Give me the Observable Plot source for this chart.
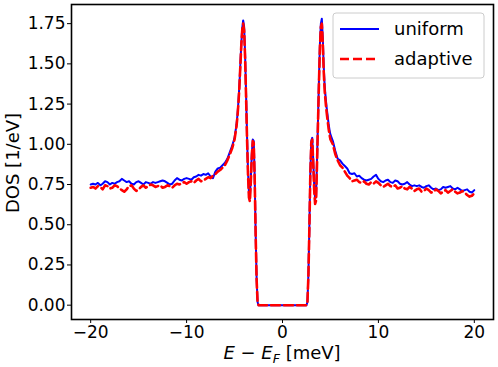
<!DOCTYPE html>
<html>
<head>
<meta charset="utf-8">
<script src="https://cdn.jsdelivr.net/npm/d3@7"></script>
<script src="https://cdn.jsdelivr.net/npm/@observablehq/plot@0.6"></script>
<style>
  html, body { margin: 0; padding: 0; background: white; }
  #chart { width: 498px; height: 367px; }
</style>
</head>
<body>
<div id="chart"></div>
<script>
// Energy grid E - E_F [meV]
const energy = [
  -20,-19.75,-19.5,-19.25,-19,-18.75,-18.5,-18.25,-18,-17.75,
  -17.5,-17.25,-17,-16.75,-16.5,-16.25,-16,-15.75,-15.5,-15.25,
  -15,-14.75,-14.5,-14.25,-14,-13.75,-13.5,-13.25,-13,-12.75,
  -12.5,-12.25,-12,-11.75,-11.5,-11.25,-11,-10.75,-10.5,-10.25,
  -10,-9.75,-9.5,-9.25,-9,-8.75,-8.5,-8.25,-8,-7.75,
  -7.5,-7.25,-7,-6.75,-6.5,-6.25,-6,-5.75,-5.5,-5.25,
  -5,-4.9,-4.8,-4.7,-4.6,-4.5,-4.4,-4.3,-4.2,-4.1,
  -4,-3.9,-3.8,-3.7,-3.6,-3.5,-3.4,-3.3,-3.2,-3.1,
  -3,-2.9,-2.8,-2.7,-2.6,
  -2.5,-2,-1,0,1,2,2.5,
  2.6,2.7,2.8,2.9,3,
  3.1,3.2,3.3,3.4,3.5,3.6,3.7,3.8,3.9,4,
  4.1,4.2,4.3,4.4,4.5,4.6,4.7,4.8,4.9,5,
  5.25,5.5,5.75,6,6.25,6.5,6.75,7,7.25,7.5,
  7.75,8,8.25,8.5,8.75,9,9.25,9.5,9.75,10,
  10.25,10.5,10.75,11,11.25,11.5,11.75,12,12.25,12.5,
  12.75,13,13.25,13.5,13.75,14,14.25,14.5,14.75,15,
  15.25,15.5,15.75,16,16.25,16.5,16.75,17,17.25,17.5,
  17.75,18,18.25,18.5,18.75,19,19.25,19.5,19.75,20
];

// DOS [1/eV], "uniform" series
const uniform = [
  0.75,0.755,0.75,0.76,0.745,0.755,0.77,0.765,0.75,0.76,
  0.755,0.765,0.77,0.785,0.775,0.765,0.77,0.755,0.75,0.765,
  0.77,0.76,0.75,0.765,0.76,0.755,0.765,0.76,0.765,0.77,
  0.775,0.77,0.76,0.75,0.755,0.775,0.79,0.78,0.775,0.785,
  0.79,0.785,0.78,0.795,0.80,0.81,0.805,0.815,0.81,0.82,
  0.80,0.79,0.83,0.85,0.855,0.87,0.885,0.91,0.95,0.99,
  1.04,1.08,1.12,1.18,1.26,1.36,1.49,1.62,1.72,1.77,
  1.73,1.56,1.32,1.06,0.84,0.70,0.67,0.79,0.94,1.03,
  1.02,0.80,0.45,0.17,0.02,
  0,0,0,0,0,0,0,
  0.02,0.19,0.48,0.82,1.02,
  1.04,0.91,0.75,0.66,0.68,0.90,1.15,1.40,1.62,1.75,
  1.78,1.66,1.48,1.36,1.29,1.23,1.18,1.13,1.09,1.06,
  1.02,0.96,0.91,0.90,0.88,0.865,0.85,0.82,0.815,0.82,
  0.80,0.805,0.79,0.78,0.775,0.78,0.785,0.80,0.81,0.785,
  0.77,0.765,0.775,0.78,0.765,0.76,0.775,0.77,0.755,0.75,
  0.755,0.765,0.75,0.74,0.745,0.74,0.745,0.735,0.73,0.74,
  0.745,0.73,0.72,0.725,0.715,0.72,0.735,0.73,0.735,0.74,
  0.725,0.72,0.73,0.72,0.71,0.715,0.72,0.705,0.70,0.715
];

// DOS [1/eV], "adaptive" series
const adaptive = [
  0.73,0.735,0.725,0.74,0.735,0.72,0.745,0.74,0.725,0.73,
  0.745,0.74,0.725,0.715,0.705,0.72,0.74,0.745,0.725,0.71,
  0.72,0.735,0.745,0.73,0.74,0.75,0.745,0.735,0.74,0.745,
  0.73,0.735,0.745,0.74,0.73,0.745,0.755,0.75,0.76,0.765,
  0.755,0.765,0.77,0.76,0.775,0.785,0.77,0.775,0.785,0.795,
  0.79,0.805,0.815,0.83,0.84,0.855,0.87,0.90,0.935,0.975,
  1.03,1.07,1.11,1.17,1.25,1.35,1.48,1.61,1.71,1.75,
  1.71,1.54,1.30,1.04,0.82,0.67,0.645,0.77,0.93,1.02,
  1.01,0.79,0.44,0.16,0.02,
  0,0,0,0,0,0,0,
  0.02,0.18,0.47,0.81,1.01,
  1.03,0.89,0.72,0.63,0.65,0.88,1.13,1.38,1.60,1.73,
  1.75,1.63,1.45,1.33,1.26,1.20,1.15,1.10,1.06,1.03,
  1.00,0.94,0.90,0.87,0.855,0.83,0.805,0.79,0.77,0.775,
  0.78,0.765,0.76,0.77,0.755,0.75,0.765,0.755,0.77,0.76,
  0.745,0.735,0.745,0.755,0.74,0.735,0.745,0.725,0.73,0.74,
  0.725,0.72,0.735,0.725,0.71,0.72,0.725,0.705,0.71,0.725,
  0.715,0.70,0.705,0.72,0.71,0.695,0.705,0.715,0.70,0.71,
  0.72,0.705,0.695,0.70,0.71,0.70,0.685,0.675,0.68,0.695
];

const seriesNames = ["uniform", "adaptive"];
const seriesColors = ["#0000ff", "#ff0000"];
const xTicks = [-20, -10, 0, 10, 20];
const yTicks = [0, 0.25, 0.5, 0.75, 1.0, 1.25, 1.5, 1.75];

const uniData = energy.map((e, i) => ({e, v: uniform[i]}));
const adaData = energy.map((e, i) => ({e, v: adaptive[i]}));

const FONT = "DejaVu Sans";
const TICK_FS = 17;
const FS = 18;

const chart = Plot.plot({
  width: 498,
  height: 367,
  marginLeft: 71,
  marginRight: 5,
  marginTop: 4,
  marginBottom: 48,
  style: {fontFamily: FONT, fontSize: TICK_FS + "px", color: "black", background: "white", overflow: "visible"},
  x: {domain: [-22, 22], ticks: xTicks, tickFormat: d => d < 0 ? "\u2212" + Math.abs(d) : String(d), label: null, tickSize: 4, tickPadding: 2},
  y: {domain: [-0.089, 1.869], ticks: yTicks, tickFormat: d3.format(".2f"), label: null, tickSize: 4, tickPadding: 2},
  marks: [
    Plot.line(uniData, {x: "e", y: "v", stroke: seriesColors[0], strokeWidth: 2}),
    Plot.line(adaData, {x: "e", y: "v", stroke: seriesColors[1], strokeWidth: 2.6, strokeDasharray: "9,4"}),
    Plot.frame({stroke: "black", strokeWidth: 1.6})
  ]
});

document.getElementById("chart").appendChild(chart);

const svg = d3.select(chart);
// axis titles
const xl = svg.append("text")
  .attr("x", 282).attr("y", 359)
  .attr("text-anchor", "middle")
  .attr("font-family", FONT).attr("font-size", FS).attr("fill", "black");
xl.append("tspan").attr("font-style", "italic").text("E");
xl.append("tspan").text(" \u2212 ");
xl.append("tspan").attr("font-style", "italic").text("E");
xl.append("tspan").attr("font-style", "italic").attr("font-size", FS * 0.7).attr("dy", 4).text("F");
xl.append("tspan").attr("dy", -4).text(" [meV]");

svg.append("text")
  .attr("transform", "translate(19,163) rotate(-90)")
  .attr("text-anchor", "middle")
  .attr("font-family", FONT).attr("font-size", FS).attr("fill", "black")
  .text("DOS [1/eV]");

// legend
const lg = svg.append("g");
lg.append("rect")
  .attr("x", 333).attr("y", 13).attr("width", 151).attr("height", 65)
  .attr("rx", 3).attr("fill", "white").attr("fill-opacity", 0.8)
  .attr("stroke", "#cccccc").attr("stroke-width", 1);
seriesNames.forEach((name, i) => {
  const y = 29 + i * 30;
  lg.append("line")
    .attr("x1", 340).attr("x2", 379).attr("y1", y).attr("y2", y)
    .attr("stroke", seriesColors[i]).attr("stroke-width", i === 0 ? 2 : 2.6)
    .attr("stroke-dasharray", i === 0 ? null : "9,4");
  lg.append("text")
    .attr("x", 394).attr("y", y).attr("dy", "0.35em")
    .attr("text-anchor", "start")
    .attr("font-family", FONT).attr("font-size", FS).attr("fill", "black")
    .text(name);
});
</script>
</body>
</html>
